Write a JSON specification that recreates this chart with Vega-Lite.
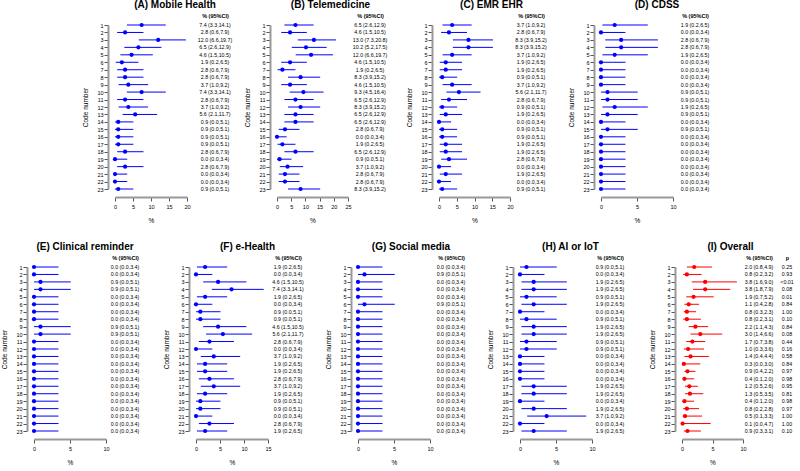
{
"$schema": "https://vega.github.io/schema/vega-lite/v6.json",
"background": "white",
"padding": {"left": 1, "top": 0, "right": 0, "bottom": 0},
"config": {
 "font": "Liberation Sans",
 "view": {"stroke": null},
 "axis": {"grid": false, "labelFontSize": 5.5, "titleFontSize": 6.5, "titleFontWeight": "normal", "domainColor": "#999999", "domainWidth": 2, "tickColor": "#555555", "tickSize": 4, "labelColor": "#000000", "titleColor": "#000000", "labelPadding": 1, "labelOverlap": false, "labelFlush": false, "labelSeparation": 0},
 "axisX": {"offset": 8, "labelPadding": 3, "titlePadding": 8},
 "axisY": {"offset": 7, "titlePadding": 8},
 "title": {"fontSize": 10, "fontWeight": "bold", "anchor": "middle", "frame": "group", "offset": 12.5},
 "text": {"fontSize": 5.3}
},
"datasets": {"d": [
{"g":"A","c":1,"e":7.4,"l":3.3,"h":14.1,"t":"7.4 (3.3,14.1)"},
{"g":"A","c":2,"e":2.8,"l":0.6,"h":7.9,"t":"2.8 (0.6,7.9)"},
{"g":"A","c":3,"e":12.0,"l":6.6,"h":19.7,"t":"12.0 (6.6,19.7)"},
{"g":"A","c":4,"e":6.5,"l":2.6,"h":12.9,"t":"6.5 (2.6,12.9)"},
{"g":"A","c":5,"e":4.6,"l":1.5,"h":10.5,"t":"4.6 (1.5,10.5)"},
{"g":"A","c":6,"e":1.9,"l":0.2,"h":6.5,"t":"1.9 (0.2,6.5)"},
{"g":"A","c":7,"e":2.8,"l":0.6,"h":7.9,"t":"2.8 (0.6,7.9)"},
{"g":"A","c":8,"e":2.8,"l":0.6,"h":7.9,"t":"2.8 (0.6,7.9)"},
{"g":"A","c":9,"e":3.7,"l":1.0,"h":9.2,"t":"3.7 (1.0,9.2)"},
{"g":"A","c":10,"e":7.4,"l":3.3,"h":14.1,"t":"7.4 (3.3,14.1)"},
{"g":"A","c":11,"e":2.8,"l":0.6,"h":7.9,"t":"2.8 (0.6,7.9)"},
{"g":"A","c":12,"e":3.7,"l":1.0,"h":9.2,"t":"3.7 (1.0,9.2)"},
{"g":"A","c":13,"e":5.6,"l":2.1,"h":11.7,"t":"5.6 (2.1,11.7)"},
{"g":"A","c":14,"e":0.9,"l":0.0,"h":5.1,"t":"0.9 (0.0,5.1)"},
{"g":"A","c":15,"e":0.9,"l":0.0,"h":5.1,"t":"0.9 (0.0,5.1)"},
{"g":"A","c":16,"e":0.9,"l":0.0,"h":5.1,"t":"0.9 (0.0,5.1)"},
{"g":"A","c":17,"e":0.9,"l":0.0,"h":5.1,"t":"0.9 (0.0,5.1)"},
{"g":"A","c":18,"e":2.8,"l":0.6,"h":7.9,"t":"2.8 (0.6,7.9)"},
{"g":"A","c":19,"e":0.0,"l":0.0,"h":3.4,"t":"0.0 (0.0,3.4)"},
{"g":"A","c":20,"e":2.8,"l":0.6,"h":7.9,"t":"2.8 (0.6,7.9)"},
{"g":"A","c":21,"e":0.0,"l":0.0,"h":3.4,"t":"0.0 (0.0,3.4)"},
{"g":"A","c":22,"e":0.0,"l":0.0,"h":3.4,"t":"0.0 (0.0,3.4)"},
{"g":"A","c":23,"e":0.9,"l":0.0,"h":5.1,"t":"0.9 (0.0,5.1)"},
{"g":"B","c":1,"e":6.5,"l":2.6,"h":12.9,"t":"6.5 (2.6,12.9)"},
{"g":"B","c":2,"e":4.6,"l":1.5,"h":10.5,"t":"4.6 (1.5,10.5)"},
{"g":"B","c":3,"e":13.0,"l":7.3,"h":20.8,"t":"13.0 (7.3,20.8)"},
{"g":"B","c":4,"e":10.2,"l":5.2,"h":17.5,"t":"10.2 (5.2,17.5)"},
{"g":"B","c":5,"e":12.0,"l":6.6,"h":19.7,"t":"12.0 (6.6,19.7)"},
{"g":"B","c":6,"e":4.6,"l":1.5,"h":10.5,"t":"4.6 (1.5,10.5)"},
{"g":"B","c":7,"e":1.9,"l":0.2,"h":6.5,"t":"1.9 (0.2,6.5)"},
{"g":"B","c":8,"e":8.3,"l":3.9,"h":15.2,"t":"8.3 (3.9,15.2)"},
{"g":"B","c":9,"e":4.6,"l":1.5,"h":10.5,"t":"4.6 (1.5,10.5)"},
{"g":"B","c":10,"e":9.3,"l":4.5,"h":16.4,"t":"9.3 (4.5,16.4)"},
{"g":"B","c":11,"e":6.5,"l":2.6,"h":12.9,"t":"6.5 (2.6,12.9)"},
{"g":"B","c":12,"e":8.3,"l":3.9,"h":15.2,"t":"8.3 (3.9,15.2)"},
{"g":"B","c":13,"e":6.5,"l":2.6,"h":12.9,"t":"6.5 (2.6,12.9)"},
{"g":"B","c":14,"e":6.5,"l":2.6,"h":12.9,"t":"6.5 (2.6,12.9)"},
{"g":"B","c":15,"e":2.8,"l":0.6,"h":7.9,"t":"2.8 (0.6,7.9)"},
{"g":"B","c":16,"e":0.0,"l":0.0,"h":3.4,"t":"0.0 (0.0,3.4)"},
{"g":"B","c":17,"e":1.9,"l":0.2,"h":6.5,"t":"1.9 (0.2,6.5)"},
{"g":"B","c":18,"e":6.5,"l":2.6,"h":12.9,"t":"6.5 (2.6,12.9)"},
{"g":"B","c":19,"e":0.9,"l":0.0,"h":5.1,"t":"0.9 (0.0,5.1)"},
{"g":"B","c":20,"e":3.7,"l":1.0,"h":9.2,"t":"3.7 (1.0,9.2)"},
{"g":"B","c":21,"e":2.8,"l":0.6,"h":7.9,"t":"2.8 (0.6,7.9)"},
{"g":"B","c":22,"e":2.8,"l":0.6,"h":7.9,"t":"2.8 (0.6,7.9)"},
{"g":"B","c":23,"e":8.3,"l":3.9,"h":15.2,"t":"8.3 (3.9,15.2)"},
{"g":"C","c":1,"e":3.7,"l":1.0,"h":9.2,"t":"3.7 (1.0,9.2)"},
{"g":"C","c":2,"e":2.8,"l":0.6,"h":7.9,"t":"2.8 (0.6,7.9)"},
{"g":"C","c":3,"e":8.3,"l":3.9,"h":15.2,"t":"8.3 (3.9,15.2)"},
{"g":"C","c":4,"e":8.3,"l":3.9,"h":15.2,"t":"8.3 (3.9,15.2)"},
{"g":"C","c":5,"e":3.7,"l":1.0,"h":9.2,"t":"3.7 (1.0,9.2)"},
{"g":"C","c":6,"e":1.9,"l":0.2,"h":6.5,"t":"1.9 (0.2,6.5)"},
{"g":"C","c":7,"e":1.9,"l":0.2,"h":6.5,"t":"1.9 (0.2,6.5)"},
{"g":"C","c":8,"e":0.9,"l":0.0,"h":5.1,"t":"0.9 (0.0,5.1)"},
{"g":"C","c":9,"e":3.7,"l":1.0,"h":9.2,"t":"3.7 (1.0,9.2)"},
{"g":"C","c":10,"e":5.6,"l":2.1,"h":11.7,"t":"5.6 (2.1,11.7)"},
{"g":"C","c":11,"e":2.8,"l":0.6,"h":7.9,"t":"2.8 (0.6,7.9)"},
{"g":"C","c":12,"e":0.9,"l":0.0,"h":5.1,"t":"0.9 (0.0,5.1)"},
{"g":"C","c":13,"e":1.9,"l":0.2,"h":6.5,"t":"1.9 (0.2,6.5)"},
{"g":"C","c":14,"e":0.0,"l":0.0,"h":3.4,"t":"0.0 (0.0,3.4)"},
{"g":"C","c":15,"e":0.9,"l":0.0,"h":5.1,"t":"0.9 (0.0,5.1)"},
{"g":"C","c":16,"e":0.9,"l":0.0,"h":5.1,"t":"0.9 (0.0,5.1)"},
{"g":"C","c":17,"e":1.9,"l":0.2,"h":6.5,"t":"1.9 (0.2,6.5)"},
{"g":"C","c":18,"e":1.9,"l":0.2,"h":6.5,"t":"1.9 (0.2,6.5)"},
{"g":"C","c":19,"e":2.8,"l":0.6,"h":7.9,"t":"2.8 (0.6,7.9)"},
{"g":"C","c":20,"e":0.0,"l":0.0,"h":3.4,"t":"0.0 (0.0,3.4)"},
{"g":"C","c":21,"e":1.9,"l":0.2,"h":6.5,"t":"1.9 (0.2,6.5)"},
{"g":"C","c":22,"e":0.0,"l":0.0,"h":3.4,"t":"0.0 (0.0,3.4)"},
{"g":"C","c":23,"e":0.9,"l":0.0,"h":5.1,"t":"0.9 (0.0,5.1)"},
{"g":"D","c":1,"e":1.9,"l":0.2,"h":6.5,"t":"1.9 (0.2,6.5)"},
{"g":"D","c":2,"e":0.0,"l":0.0,"h":3.4,"t":"0.0 (0.0,3.4)"},
{"g":"D","c":3,"e":2.8,"l":0.6,"h":7.9,"t":"2.8 (0.6,7.9)"},
{"g":"D","c":4,"e":2.8,"l":0.6,"h":7.9,"t":"2.8 (0.6,7.9)"},
{"g":"D","c":5,"e":1.9,"l":0.2,"h":6.5,"t":"1.9 (0.2,6.5)"},
{"g":"D","c":6,"e":0.0,"l":0.0,"h":3.4,"t":"0.0 (0.0,3.4)"},
{"g":"D","c":7,"e":0.0,"l":0.0,"h":3.4,"t":"0.0 (0.0,3.4)"},
{"g":"D","c":8,"e":0.0,"l":0.0,"h":3.4,"t":"0.0 (0.0,3.4)"},
{"g":"D","c":9,"e":0.0,"l":0.0,"h":3.4,"t":"0.0 (0.0,3.4)"},
{"g":"D","c":10,"e":0.9,"l":0.0,"h":5.1,"t":"0.9 (0.0,5.1)"},
{"g":"D","c":11,"e":0.9,"l":0.0,"h":5.1,"t":"0.9 (0.0,5.1)"},
{"g":"D","c":12,"e":1.9,"l":0.2,"h":6.5,"t":"1.9 (0.2,6.5)"},
{"g":"D","c":13,"e":0.9,"l":0.0,"h":5.1,"t":"0.9 (0.0,5.1)"},
{"g":"D","c":14,"e":0.0,"l":0.0,"h":3.4,"t":"0.0 (0.0,3.4)"},
{"g":"D","c":15,"e":0.9,"l":0.0,"h":5.1,"t":"0.9 (0.0,5.1)"},
{"g":"D","c":16,"e":0.0,"l":0.0,"h":3.4,"t":"0.0 (0.0,3.4)"},
{"g":"D","c":17,"e":0.0,"l":0.0,"h":3.4,"t":"0.0 (0.0,3.4)"},
{"g":"D","c":18,"e":0.0,"l":0.0,"h":3.4,"t":"0.0 (0.0,3.4)"},
{"g":"D","c":19,"e":0.0,"l":0.0,"h":3.4,"t":"0.0 (0.0,3.4)"},
{"g":"D","c":20,"e":0.0,"l":0.0,"h":3.4,"t":"0.0 (0.0,3.4)"},
{"g":"D","c":21,"e":0.0,"l":0.0,"h":3.4,"t":"0.0 (0.0,3.4)"},
{"g":"D","c":22,"e":0.0,"l":0.0,"h":3.4,"t":"0.0 (0.0,3.4)"},
{"g":"D","c":23,"e":0.0,"l":0.0,"h":3.4,"t":"0.0 (0.0,3.4)"},
{"g":"E","c":1,"e":0.0,"l":0.0,"h":3.4,"t":"0.0 (0.0,3.4)"},
{"g":"E","c":2,"e":0.0,"l":0.0,"h":3.4,"t":"0.0 (0.0,3.4)"},
{"g":"E","c":3,"e":0.9,"l":0.0,"h":5.1,"t":"0.9 (0.0,5.1)"},
{"g":"E","c":4,"e":0.9,"l":0.0,"h":5.1,"t":"0.9 (0.0,5.1)"},
{"g":"E","c":5,"e":0.0,"l":0.0,"h":3.4,"t":"0.0 (0.0,3.4)"},
{"g":"E","c":6,"e":0.0,"l":0.0,"h":3.4,"t":"0.0 (0.0,3.4)"},
{"g":"E","c":7,"e":0.0,"l":0.0,"h":3.4,"t":"0.0 (0.0,3.4)"},
{"g":"E","c":8,"e":0.0,"l":0.0,"h":3.4,"t":"0.0 (0.0,3.4)"},
{"g":"E","c":9,"e":0.9,"l":0.0,"h":5.1,"t":"0.9 (0.0,5.1)"},
{"g":"E","c":10,"e":0.9,"l":0.0,"h":5.1,"t":"0.9 (0.0,5.1)"},
{"g":"E","c":11,"e":0.0,"l":0.0,"h":3.4,"t":"0.0 (0.0,3.4)"},
{"g":"E","c":12,"e":0.0,"l":0.0,"h":3.4,"t":"0.0 (0.0,3.4)"},
{"g":"E","c":13,"e":0.0,"l":0.0,"h":3.4,"t":"0.0 (0.0,3.4)"},
{"g":"E","c":14,"e":0.0,"l":0.0,"h":3.4,"t":"0.0 (0.0,3.4)"},
{"g":"E","c":15,"e":0.0,"l":0.0,"h":3.4,"t":"0.0 (0.0,3.4)"},
{"g":"E","c":16,"e":0.0,"l":0.0,"h":3.4,"t":"0.0 (0.0,3.4)"},
{"g":"E","c":17,"e":0.0,"l":0.0,"h":3.4,"t":"0.0 (0.0,3.4)"},
{"g":"E","c":18,"e":0.0,"l":0.0,"h":3.4,"t":"0.0 (0.0,3.4)"},
{"g":"E","c":19,"e":0.0,"l":0.0,"h":3.4,"t":"0.0 (0.0,3.4)"},
{"g":"E","c":20,"e":0.0,"l":0.0,"h":3.4,"t":"0.0 (0.0,3.4)"},
{"g":"E","c":21,"e":0.0,"l":0.0,"h":3.4,"t":"0.0 (0.0,3.4)"},
{"g":"E","c":22,"e":0.0,"l":0.0,"h":3.4,"t":"0.0 (0.0,3.4)"},
{"g":"E","c":23,"e":0.0,"l":0.0,"h":3.4,"t":"0.0 (0.0,3.4)"},
{"g":"F","c":1,"e":1.9,"l":0.2,"h":6.5,"t":"1.9 (0.2,6.5)"},
{"g":"F","c":2,"e":0.0,"l":0.0,"h":3.4,"t":"0.0 (0.0,3.4)"},
{"g":"F","c":3,"e":4.6,"l":1.5,"h":10.5,"t":"4.6 (1.5,10.5)"},
{"g":"F","c":4,"e":7.4,"l":3.3,"h":14.1,"t":"7.4 (3.3,14.1)"},
{"g":"F","c":5,"e":1.9,"l":0.2,"h":6.5,"t":"1.9 (0.2,6.5)"},
{"g":"F","c":6,"e":0.0,"l":0.0,"h":3.4,"t":"0.0 (0.0,3.4)"},
{"g":"F","c":7,"e":0.9,"l":0.0,"h":5.1,"t":"0.9 (0.0,5.1)"},
{"g":"F","c":8,"e":0.9,"l":0.0,"h":5.1,"t":"0.9 (0.0,5.1)"},
{"g":"F","c":9,"e":4.6,"l":1.5,"h":10.5,"t":"4.6 (1.5,10.5)"},
{"g":"F","c":10,"e":5.6,"l":2.1,"h":11.7,"t":"5.6 (2.1,11.7)"},
{"g":"F","c":11,"e":2.8,"l":0.6,"h":7.9,"t":"2.8 (0.6,7.9)"},
{"g":"F","c":12,"e":0.0,"l":0.0,"h":3.4,"t":"0.0 (0.0,3.4)"},
{"g":"F","c":13,"e":3.7,"l":1.0,"h":9.2,"t":"3.7 (1.0,9.2)"},
{"g":"F","c":14,"e":1.9,"l":0.2,"h":6.5,"t":"1.9 (0.2,6.5)"},
{"g":"F","c":15,"e":1.9,"l":0.2,"h":6.5,"t":"1.9 (0.2,6.5)"},
{"g":"F","c":16,"e":2.8,"l":0.6,"h":7.9,"t":"2.8 (0.6,7.9)"},
{"g":"F","c":17,"e":3.7,"l":1.0,"h":9.2,"t":"3.7 (1.0,9.2)"},
{"g":"F","c":18,"e":1.9,"l":0.2,"h":6.5,"t":"1.9 (0.2,6.5)"},
{"g":"F","c":19,"e":0.9,"l":0.0,"h":5.1,"t":"0.9 (0.0,5.1)"},
{"g":"F","c":20,"e":0.9,"l":0.0,"h":5.1,"t":"0.9 (0.0,5.1)"},
{"g":"F","c":21,"e":0.0,"l":0.0,"h":3.4,"t":"0.0 (0.0,3.4)"},
{"g":"F","c":22,"e":2.8,"l":0.6,"h":7.9,"t":"2.8 (0.6,7.9)"},
{"g":"F","c":23,"e":1.9,"l":0.2,"h":6.5,"t":"1.9 (0.2,6.5)"},
{"g":"G","c":1,"e":0.0,"l":0.0,"h":3.4,"t":"0.0 (0.0,3.4)"},
{"g":"G","c":2,"e":0.9,"l":0.0,"h":5.1,"t":"0.9 (0.0,5.1)"},
{"g":"G","c":3,"e":0.0,"l":0.0,"h":3.4,"t":"0.0 (0.0,3.4)"},
{"g":"G","c":4,"e":0.0,"l":0.0,"h":3.4,"t":"0.0 (0.0,3.4)"},
{"g":"G","c":5,"e":0.0,"l":0.0,"h":3.4,"t":"0.0 (0.0,3.4)"},
{"g":"G","c":6,"e":0.9,"l":0.0,"h":5.1,"t":"0.9 (0.0,5.1)"},
{"g":"G","c":7,"e":0.0,"l":0.0,"h":3.4,"t":"0.0 (0.0,3.4)"},
{"g":"G","c":8,"e":0.0,"l":0.0,"h":3.4,"t":"0.0 (0.0,3.4)"},
{"g":"G","c":9,"e":0.0,"l":0.0,"h":3.4,"t":"0.0 (0.0,3.4)"},
{"g":"G","c":10,"e":0.0,"l":0.0,"h":3.4,"t":"0.0 (0.0,3.4)"},
{"g":"G","c":11,"e":0.0,"l":0.0,"h":3.4,"t":"0.0 (0.0,3.4)"},
{"g":"G","c":12,"e":0.0,"l":0.0,"h":3.4,"t":"0.0 (0.0,3.4)"},
{"g":"G","c":13,"e":0.0,"l":0.0,"h":3.4,"t":"0.0 (0.0,3.4)"},
{"g":"G","c":14,"e":0.0,"l":0.0,"h":3.4,"t":"0.0 (0.0,3.4)"},
{"g":"G","c":15,"e":0.0,"l":0.0,"h":3.4,"t":"0.0 (0.0,3.4)"},
{"g":"G","c":16,"e":0.0,"l":0.0,"h":3.4,"t":"0.0 (0.0,3.4)"},
{"g":"G","c":17,"e":0.0,"l":0.0,"h":3.4,"t":"0.0 (0.0,3.4)"},
{"g":"G","c":18,"e":0.0,"l":0.0,"h":3.4,"t":"0.0 (0.0,3.4)"},
{"g":"G","c":19,"e":0.0,"l":0.0,"h":3.4,"t":"0.0 (0.0,3.4)"},
{"g":"G","c":20,"e":0.0,"l":0.0,"h":3.4,"t":"0.0 (0.0,3.4)"},
{"g":"G","c":21,"e":0.0,"l":0.0,"h":3.4,"t":"0.0 (0.0,3.4)"},
{"g":"G","c":22,"e":0.0,"l":0.0,"h":3.4,"t":"0.0 (0.0,3.4)"},
{"g":"G","c":23,"e":0.0,"l":0.0,"h":3.4,"t":"0.0 (0.0,3.4)"},
{"g":"H","c":1,"e":0.9,"l":0.0,"h":5.1,"t":"0.9 (0.0,5.1)"},
{"g":"H","c":2,"e":0.0,"l":0.0,"h":3.4,"t":"0.0 (0.0,3.4)"},
{"g":"H","c":3,"e":1.9,"l":0.2,"h":6.5,"t":"1.9 (0.2,6.5)"},
{"g":"H","c":4,"e":1.9,"l":0.2,"h":6.5,"t":"1.9 (0.2,6.5)"},
{"g":"H","c":5,"e":0.9,"l":0.0,"h":5.1,"t":"0.9 (0.0,5.1)"},
{"g":"H","c":6,"e":1.9,"l":0.2,"h":6.5,"t":"1.9 (0.2,6.5)"},
{"g":"H","c":7,"e":0.0,"l":0.0,"h":3.4,"t":"0.0 (0.0,3.4)"},
{"g":"H","c":8,"e":0.9,"l":0.0,"h":5.1,"t":"0.9 (0.0,5.1)"},
{"g":"H","c":9,"e":1.9,"l":0.2,"h":6.5,"t":"1.9 (0.2,6.5)"},
{"g":"H","c":10,"e":1.9,"l":0.2,"h":6.5,"t":"1.9 (0.2,6.5)"},
{"g":"H","c":11,"e":0.9,"l":0.0,"h":5.1,"t":"0.9 (0.0,5.1)"},
{"g":"H","c":12,"e":0.9,"l":0.0,"h":5.1,"t":"0.9 (0.0,5.1)"},
{"g":"H","c":13,"e":0.0,"l":0.0,"h":3.4,"t":"0.0 (0.0,3.4)"},
{"g":"H","c":14,"e":0.0,"l":0.0,"h":3.4,"t":"0.0 (0.0,3.4)"},
{"g":"H","c":15,"e":0.0,"l":0.0,"h":3.4,"t":"0.0 (0.0,3.4)"},
{"g":"H","c":16,"e":0.0,"l":0.0,"h":3.4,"t":"0.0 (0.0,3.4)"},
{"g":"H","c":17,"e":1.9,"l":0.2,"h":6.5,"t":"1.9 (0.2,6.5)"},
{"g":"H","c":18,"e":1.9,"l":0.2,"h":6.5,"t":"1.9 (0.2,6.5)"},
{"g":"H","c":19,"e":0.0,"l":0.0,"h":3.4,"t":"0.0 (0.0,3.4)"},
{"g":"H","c":20,"e":1.9,"l":0.2,"h":6.5,"t":"1.9 (0.2,6.5)"},
{"g":"H","c":21,"e":3.7,"l":1.0,"h":9.2,"t":"3.7 (1.0,9.2)"},
{"g":"H","c":22,"e":0.0,"l":0.0,"h":3.4,"t":"0.0 (0.0,3.4)"},
{"g":"H","c":23,"e":1.9,"l":0.2,"h":6.5,"t":"1.9 (0.2,6.5)"},
{"g":"I","c":1,"e":2.0,"l":0.8,"h":4.9,"t":"2.0 (0.8,4.9)","p":"0.25"},
{"g":"I","c":2,"e":0.8,"l":0.2,"h":3.2,"t":"0.8 (0.2,3.2)","p":"0.93"},
{"g":"I","c":3,"e":3.8,"l":1.6,"h":9.0,"t":"3.8 (1.6,9.0)","p":"<0.01"},
{"g":"I","c":4,"e":3.8,"l":1.8,"h":7.9,"t":"3.8 (1.8,7.9)","p":"0.08"},
{"g":"I","c":5,"e":1.9,"l":0.7,"h":5.2,"t":"1.9 (0.7,5.2)","p":"0.01"},
{"g":"I","c":6,"e":1.1,"l":0.4,"h":2.8,"t":"1.1 (0.4,2.8)","p":"0.84"},
{"g":"I","c":7,"e":0.8,"l":0.3,"h":2.3,"t":"0.8 (0.3,2.3)","p":"1.00"},
{"g":"I","c":8,"e":0.8,"l":0.2,"h":3.1,"t":"0.8 (0.2,3.1)","p":"0.10"},
{"g":"I","c":9,"e":2.2,"l":1.1,"h":4.3,"t":"2.2 (1.1,4.3)","p":"0.84"},
{"g":"I","c":10,"e":3.0,"l":1.4,"h":6.6,"t":"3.0 (1.4,6.6)","p":"0.08"},
{"g":"I","c":11,"e":1.7,"l":0.7,"h":3.8,"t":"1.7 (0.7,3.8)","p":"0.44"},
{"g":"I","c":12,"e":1.0,"l":0.3,"h":3.6,"t":"1.0 (0.3,3.6)","p":"0.16"},
{"g":"I","c":13,"e":1.4,"l":0.4,"h":4.4,"t":"1.4 (0.4,4.4)","p":"0.58"},
{"g":"I","c":14,"e":0.3,"l":0.0,"h":3.0,"t":"0.3 (0.0,3.0)","p":"0.84"},
{"g":"I","c":15,"e":0.9,"l":0.4,"h":2.2,"t":"0.9 (0.4,2.2)","p":"0.97"},
{"g":"I","c":16,"e":0.4,"l":0.1,"h":2.0,"t":"0.4 (0.1,2.0)","p":"0.98"},
{"g":"I","c":17,"e":1.2,"l":0.5,"h":2.6,"t":"1.2 (0.5,2.6)","p":"0.95"},
{"g":"I","c":18,"e":1.3,"l":0.5,"h":3.5,"t":"1.3 (0.5,3.5)","p":"0.81"},
{"g":"I","c":19,"e":0.4,"l":0.1,"h":2.0,"t":"0.4 (0.1,2.0)","p":"0.98"},
{"g":"I","c":20,"e":0.8,"l":0.2,"h":2.8,"t":"0.8 (0.2,2.8)","p":"0.97"},
{"g":"I","c":21,"e":0.5,"l":0.1,"h":3.3,"t":"0.5 (0.1,3.3)","p":"1.00"},
{"g":"I","c":22,"e":0.1,"l":0.0,"h":4.7,"t":"0.1 (0.0,4.7)","p":"1.00"},
{"g":"I","c":23,"e":0.9,"l":0.3,"h":3.1,"t":"0.9 (0.3,3.1)","p":"0.10"}
]},
"spacing": 18,
"vconcat": [
{"bounds": "flush", "spacing": 0, "hconcat": [
{"width": 81, "height": 164, "data": {"values": [{}]}, "mark": {"type": "point", "opacity": 0}, "encoding": {}},
{"width": 72, "height": 164, "data": {"name": "d"}, "transform": [{"filter": "datum.g == 'A'"}],
 "title": {"text": "(A) Mobile Health", "dx": 24},
 "encoding": {"y": {"field": "c", "type": "ordinal", "scale": {"type": "point", "padding": 0}, "axis": {"title": "Code number", "labelAngle": 0}}},
 "layer": [
  {"mark": {"type": "rule", "color": "#0000ff", "strokeWidth": 1}, "encoding": {"x": {"field": "l", "type": "quantitative", "scale": {"domain": [0, 20], "nice": false}, "axis": {"title": "%", "values": [0, 5, 10, 15, 20], "labelOverlap": false}}, "x2": {"field": "h"}}},
  {"mark": {"type": "point", "shape": "circle", "filled": true, "opacity": 1, "color": "#0000ff", "size": 18}, "encoding": {"x": {"field": "e", "type": "quantitative", "axis": {"title": "%", "values": [0, 5, 10, 15, 20], "labelOverlap": false}}}}
 ]},
{"width": 90, "height": 164, "data": {"name": "d"}, "transform": [{"filter": "datum.g == 'A'"}, {"fold": ["t"], "as": ["k", "v"]}],
 "mark": {"type": "text", "align": "center", "baseline": "middle"},
 "encoding": {"y": {"field": "c", "type": "ordinal", "scale": {"type": "point", "padding": 0}, "axis": null},
  "x": {"field": "k", "type": "nominal", "scale": {"type": "point", "align": 0.311}, "axis": {"orient": "top", "offset": 0, "title": null, "domain": false, "ticks": false, "labelAngle": 0, "labelPadding": 7, "labelFontWeight": "bold", "labelFontSize": 5.5, "labelExpr": "datum.label == 'p' ? 'p' : '% (95%CI)'"}},
  "text": {"field": "v"}}},
{"width": 71, "height": 164, "data": {"name": "d"}, "transform": [{"filter": "datum.g == 'B'"}],
 "title": {"text": "(B) Telemedicine", "dx": 18},
 "encoding": {"y": {"field": "c", "type": "ordinal", "scale": {"type": "point", "padding": 0}, "axis": {"title": "Code number", "labelAngle": 0}}},
 "layer": [
  {"mark": {"type": "rule", "color": "#0000ff", "strokeWidth": 1}, "encoding": {"x": {"field": "l", "type": "quantitative", "scale": {"domain": [0, 25], "nice": false}, "axis": {"title": "%", "values": [0, 5, 10, 15, 20, 25], "labelOverlap": false}}, "x2": {"field": "h"}}},
  {"mark": {"type": "point", "shape": "circle", "filled": true, "opacity": 1, "color": "#0000ff", "size": 18}, "encoding": {"x": {"field": "e", "type": "quantitative", "axis": {"title": "%", "values": [0, 5, 10, 15, 20, 25], "labelOverlap": false}}}}
 ]},
{"width": 91, "height": 164, "data": {"name": "d"}, "transform": [{"filter": "datum.g == 'B'"}, {"fold": ["t"], "as": ["k", "v"]}],
 "mark": {"type": "text", "align": "center", "baseline": "middle"},
 "encoding": {"y": {"field": "c", "type": "ordinal", "scale": {"type": "point", "padding": 0}, "axis": null},
  "x": {"field": "k", "type": "nominal", "scale": {"type": "point", "align": 0.242}, "axis": {"orient": "top", "offset": 0, "title": null, "domain": false, "ticks": false, "labelAngle": 0, "labelPadding": 7, "labelFontWeight": "bold", "labelFontSize": 5.5, "labelExpr": "datum.label == 'p' ? 'p' : '% (95%CI)'"}},
  "text": {"field": "v"}}},
{"width": 71, "height": 164, "data": {"name": "d"}, "transform": [{"filter": "datum.g == 'C'"}],
 "title": {"text": "(C) EMR EHR", "dx": 17},
 "encoding": {"y": {"field": "c", "type": "ordinal", "scale": {"type": "point", "padding": 0}, "axis": {"title": "Code number", "labelAngle": 0}}},
 "layer": [
  {"mark": {"type": "rule", "color": "#0000ff", "strokeWidth": 1}, "encoding": {"x": {"field": "l", "type": "quantitative", "scale": {"domain": [0, 20], "nice": false}, "axis": {"title": "%", "values": [0, 5, 10, 15, 20], "labelOverlap": false}}, "x2": {"field": "h"}}},
  {"mark": {"type": "point", "shape": "circle", "filled": true, "opacity": 1, "color": "#0000ff", "size": 18}, "encoding": {"x": {"field": "e", "type": "quantitative", "axis": {"title": "%", "values": [0, 5, 10, 15, 20], "labelOverlap": false}}}}
 ]},
{"width": 91, "height": 164, "data": {"name": "d"}, "transform": [{"filter": "datum.g == 'C'"}, {"fold": ["t"], "as": ["k", "v"]}],
 "mark": {"type": "text", "align": "center", "baseline": "middle"},
 "encoding": {"y": {"field": "c", "type": "ordinal", "scale": {"type": "point", "padding": 0}, "axis": null},
  "x": {"field": "k", "type": "nominal", "scale": {"type": "point", "align": 0.231}, "axis": {"orient": "top", "offset": 0, "title": null, "domain": false, "ticks": false, "labelAngle": 0, "labelPadding": 7, "labelFontWeight": "bold", "labelFontSize": 5.5, "labelExpr": "datum.label == 'p' ? 'p' : '% (95%CI)'"}},
  "text": {"field": "v"}}},
{"width": 72, "height": 164, "data": {"name": "d"}, "transform": [{"filter": "datum.g == 'D'"}],
 "title": {"text": "(D) CDSS", "dx": 20},
 "encoding": {"y": {"field": "c", "type": "ordinal", "scale": {"type": "point", "padding": 0}, "axis": {"title": "Code number", "labelAngle": 0}}},
 "layer": [
  {"mark": {"type": "rule", "color": "#0000ff", "strokeWidth": 1}, "encoding": {"x": {"field": "l", "type": "quantitative", "scale": {"domain": [0, 10], "nice": false}, "axis": {"title": "%", "values": [0, 5, 10], "labelOverlap": false}}, "x2": {"field": "h"}}},
  {"mark": {"type": "point", "shape": "circle", "filled": true, "opacity": 1, "color": "#0000ff", "size": 18}, "encoding": {"x": {"field": "e", "type": "quantitative", "axis": {"title": "%", "values": [0, 5, 10], "labelOverlap": false}}}}
 ]},
{"width": 40, "height": 164, "data": {"name": "d"}, "transform": [{"filter": "datum.g == 'D'"}, {"fold": ["t"], "as": ["k", "v"]}],
 "mark": {"type": "text", "align": "center", "baseline": "middle"},
 "encoding": {"y": {"field": "c", "type": "ordinal", "scale": {"type": "point", "padding": 0}, "axis": null},
  "x": {"field": "k", "type": "nominal", "scale": {"type": "point", "align": 0.55}, "axis": {"orient": "top", "offset": 0, "title": null, "domain": false, "ticks": false, "labelAngle": 0, "labelPadding": 7, "labelFontWeight": "bold", "labelFontSize": 5.5, "labelExpr": "datum.label == 'p' ? 'p' : '% (95%CI)'"}},
  "text": {"field": "v"}}}
]},
{"bounds": "flush", "spacing": 0, "hconcat": [
{"width": 72, "height": 164, "data": {"name": "d"}, "transform": [{"filter": "datum.g == 'E'"}],
 "title": {"text": "(E) Clinical reminder", "dx": 15},
 "encoding": {"y": {"field": "c", "type": "ordinal", "scale": {"type": "point", "padding": 0}, "axis": {"title": "Code number", "labelAngle": 0}}},
 "layer": [
  {"mark": {"type": "rule", "color": "#0000ff", "strokeWidth": 1}, "encoding": {"x": {"field": "l", "type": "quantitative", "scale": {"domain": [0, 10], "nice": false}, "axis": {"title": "%", "values": [0, 5, 10], "labelOverlap": false}}, "x2": {"field": "h"}}},
  {"mark": {"type": "point", "shape": "circle", "filled": true, "opacity": 1, "color": "#0000ff", "size": 18}, "encoding": {"x": {"field": "e", "type": "quantitative", "axis": {"title": "%", "values": [0, 5, 10], "labelOverlap": false}}}}
 ]},
{"width": 90, "height": 164, "data": {"name": "d"}, "transform": [{"filter": "datum.g == 'E'"}, {"fold": ["t"], "as": ["k", "v"]}],
 "mark": {"type": "text", "align": "center", "baseline": "middle"},
 "encoding": {"y": {"field": "c", "type": "ordinal", "scale": {"type": "point", "padding": 0}, "axis": null},
  "x": {"field": "k", "type": "nominal", "scale": {"type": "point", "align": 0.211}, "axis": {"orient": "top", "offset": 0, "title": null, "domain": false, "ticks": false, "labelAngle": 0, "labelPadding": 7, "labelFontWeight": "bold", "labelFontSize": 5.5, "labelExpr": "datum.label == 'p' ? 'p' : '% (95%CI)'"}},
  "text": {"field": "v"}}},
{"width": 72, "height": 164, "data": {"name": "d"}, "transform": [{"filter": "datum.g == 'F'"}],
 "title": {"text": "(F) e-Health", "dx": 15.5},
 "encoding": {"y": {"field": "c", "type": "ordinal", "scale": {"type": "point", "padding": 0}, "axis": {"title": "Code number", "labelAngle": 0}}},
 "layer": [
  {"mark": {"type": "rule", "color": "#0000ff", "strokeWidth": 1}, "encoding": {"x": {"field": "l", "type": "quantitative", "scale": {"domain": [0, 15], "nice": false}, "axis": {"title": "%", "values": [0, 5, 10, 15], "labelOverlap": false}}, "x2": {"field": "h"}}},
  {"mark": {"type": "point", "shape": "circle", "filled": true, "opacity": 1, "color": "#0000ff", "size": 18}, "encoding": {"x": {"field": "e", "type": "quantitative", "axis": {"title": "%", "values": [0, 5, 10, 15], "labelOverlap": false}}}}
 ]},
{"width": 90, "height": 164, "data": {"name": "d"}, "transform": [{"filter": "datum.g == 'F'"}, {"fold": ["t"], "as": ["k", "v"]}],
 "mark": {"type": "text", "align": "center", "baseline": "middle"},
 "encoding": {"y": {"field": "c", "type": "ordinal", "scale": {"type": "point", "padding": 0}, "axis": null},
  "x": {"field": "k", "type": "nominal", "scale": {"type": "point", "align": 0.222}, "axis": {"orient": "top", "offset": 0, "title": null, "domain": false, "ticks": false, "labelAngle": 0, "labelPadding": 7, "labelFontWeight": "bold", "labelFontSize": 5.5, "labelExpr": "datum.label == 'p' ? 'p' : '% (95%CI)'"}},
  "text": {"field": "v"}}},
{"width": 72, "height": 164, "data": {"name": "d"}, "transform": [{"filter": "datum.g == 'G'"}],
 "title": {"text": "(G) Social media", "dx": 17},
 "encoding": {"y": {"field": "c", "type": "ordinal", "scale": {"type": "point", "padding": 0}, "axis": {"title": "Code number", "labelAngle": 0}}},
 "layer": [
  {"mark": {"type": "rule", "color": "#0000ff", "strokeWidth": 1}, "encoding": {"x": {"field": "l", "type": "quantitative", "scale": {"domain": [0, 10], "nice": false}, "axis": {"title": "%", "values": [0, 5, 10], "labelOverlap": false}}, "x2": {"field": "h"}}},
  {"mark": {"type": "point", "shape": "circle", "filled": true, "opacity": 1, "color": "#0000ff", "size": 18}, "encoding": {"x": {"field": "e", "type": "quantitative", "axis": {"title": "%", "values": [0, 5, 10], "labelOverlap": false}}}}
 ]},
{"width": 90, "height": 164, "data": {"name": "d"}, "transform": [{"filter": "datum.g == 'G'"}, {"fold": ["t"], "as": ["k", "v"]}],
 "mark": {"type": "text", "align": "center", "baseline": "middle"},
 "encoding": {"y": {"field": "c", "type": "ordinal", "scale": {"type": "point", "padding": 0}, "axis": null},
  "x": {"field": "k", "type": "nominal", "scale": {"type": "point", "align": 0.233}, "axis": {"orient": "top", "offset": 0, "title": null, "domain": false, "ticks": false, "labelAngle": 0, "labelPadding": 7, "labelFontWeight": "bold", "labelFontSize": 5.5, "labelExpr": "datum.label == 'p' ? 'p' : '% (95%CI)'"}},
  "text": {"field": "v"}}},
{"width": 72, "height": 164, "data": {"name": "d"}, "transform": [{"filter": "datum.g == 'H'"}],
 "title": {"text": "(H) AI or IoT", "dx": 14.5},
 "encoding": {"y": {"field": "c", "type": "ordinal", "scale": {"type": "point", "padding": 0}, "axis": {"title": "Code number", "labelAngle": 0}}},
 "layer": [
  {"mark": {"type": "rule", "color": "#0000ff", "strokeWidth": 1}, "encoding": {"x": {"field": "l", "type": "quantitative", "scale": {"domain": [0, 10], "nice": false}, "axis": {"title": "%", "values": [0, 5, 10], "labelOverlap": false}}, "x2": {"field": "h"}}},
  {"mark": {"type": "point", "shape": "circle", "filled": true, "opacity": 1, "color": "#0000ff", "size": 18}, "encoding": {"x": {"field": "e", "type": "quantitative", "axis": {"title": "%", "values": [0, 5, 10], "labelOverlap": false}}}}
 ]},
{"width": 90, "height": 164, "data": {"name": "d"}, "transform": [{"filter": "datum.g == 'H'"}, {"fold": ["t"], "as": ["k", "v"]}],
 "mark": {"type": "text", "align": "center", "baseline": "middle"},
 "encoding": {"y": {"field": "c", "type": "ordinal", "scale": {"type": "point", "padding": 0}, "axis": null},
  "x": {"field": "k", "type": "nominal", "scale": {"type": "point", "align": 0.2}, "axis": {"orient": "top", "offset": 0, "title": null, "domain": false, "ticks": false, "labelAngle": 0, "labelPadding": 7, "labelFontWeight": "bold", "labelFontSize": 5.5, "labelExpr": "datum.label == 'p' ? 'p' : '% (95%CI)'"}},
  "text": {"field": "v"}}},
{"width": 61, "height": 164, "data": {"name": "d"}, "transform": [{"filter": "datum.g == 'I'"}],
 "title": {"text": "(I) Overall", "dx": 18},
 "encoding": {"y": {"field": "c", "type": "ordinal", "scale": {"type": "point", "padding": 0}, "axis": {"title": "Code number", "labelAngle": 0}}},
 "layer": [
  {"mark": {"type": "rule", "color": "#ff0000", "strokeWidth": 1}, "encoding": {"x": {"field": "l", "type": "quantitative", "scale": {"domain": [0, 10], "nice": false}, "axis": {"title": "%", "values": [0, 5, 10], "labelOverlap": false}}, "x2": {"field": "h"}}},
  {"mark": {"type": "point", "shape": "circle", "filled": true, "opacity": 1, "color": "#ff0000", "size": 18}, "encoding": {"x": {"field": "e", "type": "quantitative", "axis": {"title": "%", "values": [0, 5, 10], "labelOverlap": false}}}}
 ]},
{"width": 50, "height": 164, "data": {"name": "d"}, "transform": [{"filter": "datum.g == 'I'"}, {"fold": ["t", "p"], "as": ["k", "v"]}],
 "mark": {"type": "text", "align": "center", "baseline": "middle"},
 "encoding": {"y": {"field": "c", "type": "ordinal", "scale": {"type": "point", "padding": 0}, "axis": null},
  "x": {"field": "k", "type": "nominal", "sort": ["t", "p"], "scale": {"type": "point", "padding": 0.393, "align": 0.727}, "axis": {"orient": "top", "offset": 0, "title": null, "domain": false, "ticks": false, "labelAngle": 0, "labelPadding": 7, "labelFontWeight": "bold", "labelFontSize": 5.5, "labelExpr": "datum.label == 'p' ? 'p' : '% (95%CI)'"}},
  "text": {"field": "v"}}}
]}
]
}
